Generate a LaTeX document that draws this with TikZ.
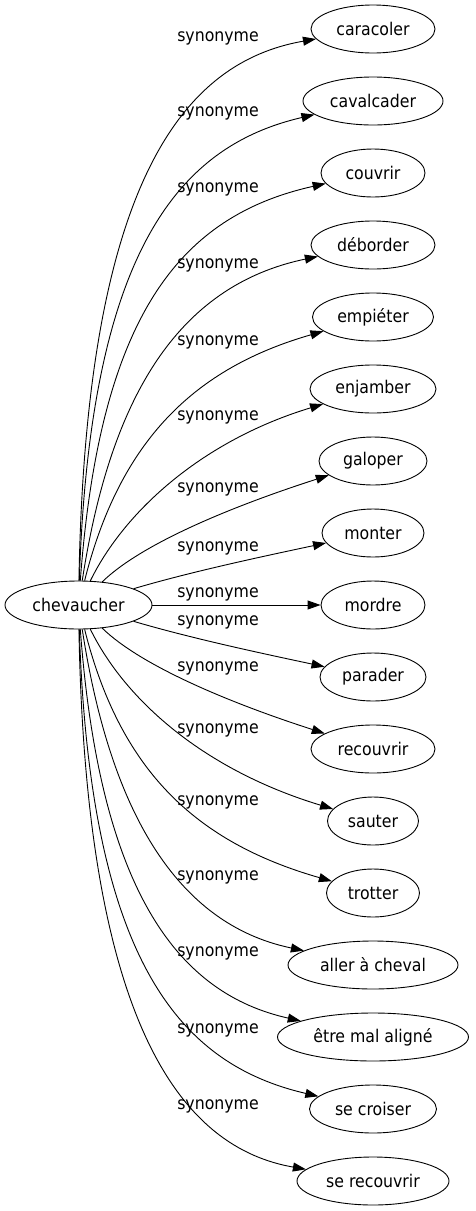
\documentclass[tikz,border=0pt]{standalone}
\usepackage{fontspec}
\setmainfont{DejaVu Sans Condensed}
\usetikzlibrary{positioning,shapes.geometric,arrows.meta}
\tikzset{node distance=72pt, auto,
  mot/.style={ellipse, draw, line width=0.9pt, inner sep=0pt, minimum height=48pt},
  lien/.style={->, line width=0.9pt},
  rel/.style={inner sep=0pt},
  >={Triangle[length=13pt,width=9pt]}}

\begin{document}
\begin{tikzpicture}[x=1pt, y=-1pt, font=\fontsize{17.5pt}{21pt}\selectfont]
             \useasboundingbox (0,0) rectangle (475,1211);

             \node (caracoler) [mot, minimum width=124pt] at (373,29) {caracoler};
             \node (cavalcader) [mot, minimum width=140pt, below of=caracoler] {cavalcader};
             \node (couvrir) [mot, minimum width=104pt, below of=cavalcader] {couvrir};
             \node (deborder) [mot, minimum width=124pt, below of=couvrir] {déborder};
             \node (empieter) [mot, minimum width=121pt, below of=deborder] {empiéter};
             \node (enjamber) [mot, minimum width=126pt, below of=empieter] {enjamber};
             \node (galoper) [mot, minimum width=108pt, below of=enjamber] {galoper};
             \node (monter) [mot, minimum width=102pt, below of=galoper] {monter};
             \node (mordre) [mot, minimum width=104pt, below of=monter] {mordre};
             \node (parader) [mot, minimum width=106pt, below of=mordre] {parader};
             \node (recouvrir) [mot, minimum width=124pt, below of=parader] {recouvrir};
             \node (sauter) [mot, minimum width=91pt, below of=recouvrir] {sauter};
             \node (trotter) [mot, minimum width=93pt, below of=sauter] {trotter};
             \node (aller) [mot, minimum width=170pt, below of=trotter] {aller à cheval};
             \node (etre) [mot, minimum width=191pt, below of=aller] {être mal aligné};
             \node (secroiser) [mot, minimum width=127pt, below of=etre] {se croiser};
             \node (serecouvrir) [mot, minimum width=152pt, below of=secroiser] {se recouvrir};

             \node (chevaucher) [mot, minimum width=147pt, left of=mordre, node distance=294.5pt] {chevaucher};

             \node (s1) [rel] at (218,38) {synonyme};
             \node (s2) [rel] at (218,113) {synonyme};
             \node (s3) [rel] at (218,189) {synonyme};
             \node (s4) [rel] at (218,265) {synonyme};
             \node (s5) [rel] at (218,342) {synonyme};
             \node (s6) [rel] at (218,417) {synonyme};
             \node (s7) [rel] at (218,489) {synonyme};
             \node (s8) [rel] at (218,548) {synonyme};
             \node (s9) [rel] at (218,594) {synonyme};
             \node (s10) [rel] at (218,622) {synonyme};
             \node (s11) [rel] at (218,668) {synonyme};
             \node (s12) [rel] at (218,730) {synonyme};
             \node (s13) [rel] at (218,802) {synonyme};
             \node (s14) [rel] at (218,877) {synonyme};
             \node (s15) [rel] at (218,953) {synonyme};
             \node (s16) [rel] at (218,1030) {synonyme};
             \node (s17) [rel] at (218,1106) {synonyme};

             \draw [lien] (chevaucher) .. controls (86,180) and (184,62) .. (caracoler);
             \draw [lien] (chevaucher) .. controls (90,250) and (179,146) .. (cavalcader);
             \draw [lien] (chevaucher) .. controls (100,315) and (180,216) .. (couvrir);
             \draw [lien] (chevaucher) .. controls (110,400) and (176,286) .. (deborder);
             \draw [lien] (chevaucher) .. controls (120,440) and (195,368) .. (empieter);
             \draw [lien] (chevaucher) .. controls (125,510) and (204,440) .. (enjamber);
             \draw [lien] (chevaucher) .. controls (140,545) and (227,508) .. (galoper);
             \draw [lien] (chevaucher) .. controls (190,572) and (260,557) .. (monter);
             \draw [lien] (chevaucher) -- (mordre);
             \draw [lien] (chevaucher) .. controls (190,638) and (260,653) .. (parader);
             \draw [lien] (chevaucher) .. controls (140,665) and (227,702) .. (recouvrir);
             \draw [lien] (chevaucher) .. controls (125,700) and (204,770) .. (sauter);
             \draw [lien] (chevaucher) .. controls (120,770) and (195,842) .. (trotter);
             \draw [lien] (chevaucher) .. controls (110,810) and (176,924) .. (aller);
             \draw [lien] (chevaucher) .. controls (100,895) and (180,994) .. (etre);
             \draw [lien] (chevaucher) .. controls (90,960) and (179,1064) .. (secroiser);
             \draw [lien] (chevaucher) .. controls (86,1030) and (184,1148) .. (serecouvrir);
\end{tikzpicture}
\end{document}
